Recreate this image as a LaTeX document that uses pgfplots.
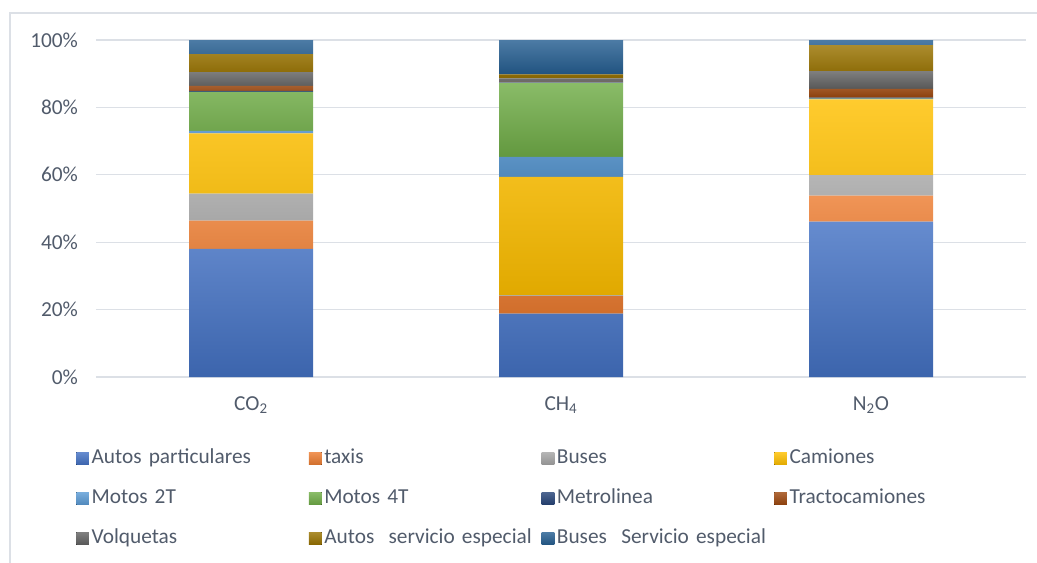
\documentclass[border=0pt]{standalone}
\usepackage{pgfplots}
\pgfplotsset{compat=1.18}
\usepackage{fontspec}
\setmainfont{Carlito}

\definecolor{cAutos}{HTML}{4472C4}
\definecolor{cTaxis}{HTML}{ED7D31}
\definecolor{cBuses}{HTML}{A5A5A5}
\definecolor{cCamiones}{HTML}{FFC000}
\definecolor{cMotosII}{HTML}{5B9BD5}
\definecolor{cMotosIV}{HTML}{70AD47}
\definecolor{cMetro}{HTML}{264478}
\definecolor{cTracto}{HTML}{9E480E}
\definecolor{cVolq}{HTML}{636363}
\definecolor{cAutosSE}{HTML}{997300}
\definecolor{cBusesSE}{HTML}{255E91}
\definecolor{txt}{HTML}{515B6B}
\definecolor{gridc}{HTML}{DCE0E6}

% one table per vehicle group: x = gas (0 CO2, 1 CH4, 2 N2O), y = share in %
\pgfplotstableread{
x y
0 38.0
1 18.8
2 46.1
}\autos
\pgfplotstableread{
x y
0 8.4
1 5.2
2 7.7
}\taxis
\pgfplotstableread{
x y
0 8.0
1 0.2
2 6.1
}\buses
\pgfplotstableread{
x y
0 17.9
1 35.2
2 22.5
}\camiones
\pgfplotstableread{
x y
0 0.7
1 5.9
2 0.1
}\motosII
\pgfplotstableread{
x y
0 11.6
1 22.0
2 0.1
}\motosIV
\pgfplotstableread{
x y
0 0.3
1 0.1
2 0.3
}\metro
\pgfplotstableread{
x y
0 1.5
1 0.2
2 2.6
}\tracto
\pgfplotstableread{
x y
0 4.1
1 1.0
2 5.3
}\volq
\pgfplotstableread{
x y
0 5.3
1 1.2
2 7.7
}\autosse
\pgfplotstableread{
x y
0 4.2
1 10.2
2 1.5
}\busesse

\tikzset{grad/.style={draw=none, top color=#1!82!white, middle color=#1, bottom color=#1!88!black}}

\begin{document}
\begin{tikzpicture}
\fontsize{16}{19}\selectfont
\useasboundingbox (-72pt,-138.75pt) rectangle (705.75pt,282.75pt);
\draw[gridc, line width=0.8pt] (-64.5pt,-140pt) -- (-64.5pt,273pt) -- (710pt,273pt);
\begin{axis}[
  scale only axis,
  width=697.5pt, height=252.75pt,
  at={(0,0)}, anchor=south west,
  ybar stacked,
  bar width=93pt,
  xmin=-0.5, xmax=2.5,
  ymin=0, ymax=100,
  xtick=data,
  xticklabels={CO\textsubscript{2}, CH\textsubscript{4}, N\textsubscript{2}O},
  ytick={0,20,40,60,80,100},
  yticklabel={\pgfmathprintnumber{\tick}\%},
  /pgf/number format/assume math mode=true,
  ymajorgrids,
  grid style={gridc, line width=0.8pt},
  axis line style={draw=none},
  major tick length=0pt,
  tick label style={font=\fontsize{16}{19}\selectfont, text=txt},
  yticklabel style={xshift=-8pt},
  xticklabel style={yshift=-9pt},
  legend columns=4,
  legend cell align=left,
  legend style={at={(0,0)}, anchor=north west, xshift=-18pt, yshift=-50pt,
    draw=none, fill=none, font=\fontsize{16}{19}\selectfont, text=txt,
    row sep=12pt,
    nodes={text width=161pt, align=left, inner xsep=2pt, text height=11pt, text depth=3pt}},
  legend image code/.code={\fill[#1] (0pt,-4.75pt) rectangle (9.5pt,4.75pt);},
]
\addplot[grad=cAutos] table {\autos};
\addplot[grad=cTaxis] table {\taxis};
\addplot[grad=cBuses] table {\buses};
\addplot[grad=cCamiones] table {\camiones};
\addplot[grad=cMotosII] table {\motosII};
\addplot[grad=cMotosIV] table {\motosIV};
\addplot[grad=cMetro] table {\metro};
\addplot[grad=cTracto] table {\tracto};
\addplot[grad=cVolq] table {\volq};
\addplot[grad=cAutosSE] table {\autosse};
\addplot[grad=cBusesSE] table {\busesse};
\legend{Autos particulares, taxis, Buses, Camiones, Motos 2T, Motos 4T, Metrolinea, Tractocamiones, Volquetas, \mbox{Autos\ \ servicio especial}, \mbox{Buses\ \ Servicio especial}}
\end{axis}
\end{tikzpicture}
\end{document}
